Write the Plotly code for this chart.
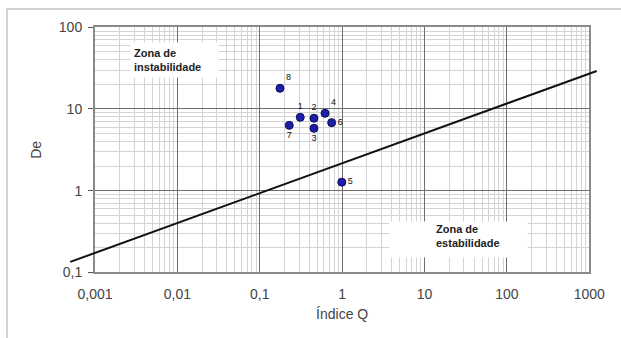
import plotly.graph_objects as go

# ---- data ----
point_labels = ["1", "2", "3", "4", "5", "6", "7", "8"]
q_values = [0.31, 0.455, 0.455, 0.62, 0.99, 0.746, 0.228, 0.176]
de_values = [7.9, 7.7, 5.8, 8.85, 1.27, 6.8, 6.3, 17.9]
label_positions = ["top center", "top center", "bottom center", "top right",
                   "middle right", "middle right", "bottom center", "top right"]

line_q = [0.0005, 1230]
line_de = [0.134, 29.2]

x_tickvals = [0.001, 0.01, 0.1, 1, 10, 100, 1000]
x_ticktext = ["0,001", "0,01", "0,1", "1", "10", "100", "1000"]
y_tickvals = [0.1, 1, 10, 100]
y_ticktext = ["0,1", "1", "10", "100"]

# ---- layout geometry ----
W, H = 621, 338
ML, MR, MT, MB = 40, 15, 20, 50
pw, ph = W - ML - MR, H - MT - MB
px_left, px_right, px_top, px_bottom = 95, 589.3, 27.3, 272.3
xdom = [(px_left - ML) / pw, (px_right - ML) / pw]
ydom = [(H - MB - px_bottom) / ph, (H - MB - px_top) / ph]
xdec = (px_right - px_left) / 6
ydec = (px_bottom - px_top) / 3
x2range = [-3 - (px_left - ML) / xdec, 3 + (W - MR - px_right) / xdec]
y2range = [-1 - (H - MB - px_bottom) / ydec, 2 + (px_top - MT) / ydec]

font_family = "Liberation Sans, Arial, sans-serif"

fig = go.Figure()

fig.add_trace(go.Scatter(
    x=q_values, y=de_values, mode="markers+text",
    text=point_labels, textposition=label_positions,
    textfont=dict(size=9, color="#111111", family=font_family),
    marker=dict(size=8, color="#1e1ea8", line=dict(color="#0a0a55", width=1)),
    showlegend=False, cliponaxis=False,
))

fig.add_trace(go.Scatter(
    x=line_q, y=line_de, mode="lines",
    line=dict(color="#111111", width=2),
    xaxis="x2", yaxis="y2", showlegend=False, hoverinfo="skip",
))

axis_common = dict(
    type="log", automargin=False,
    showline=True, mirror=True, linecolor="#8a8a8a", linewidth=2,
    showgrid=True, gridcolor="#6e6e6e", gridwidth=1,
    zeroline=False,
    tickfont=dict(size=14, color="#444444", family=font_family),
    minor=dict(dtick="D1", showgrid=True, gridcolor="#d4d4d4", gridwidth=1, ticks=""),
)

fig.update_layout(
    width=W, height=H,
    margin=dict(l=ML, r=MR, t=MT, b=MB, autoexpand=False),
    paper_bgcolor="white", plot_bgcolor="rgba(0,0,0,0)",
    font=dict(family=font_family, color="#444444"),
    xaxis=dict(
        axis_common, domain=xdom, range=[-3, 3],
        tickmode="array", tickvals=x_tickvals, ticktext=x_ticktext,
        ticks="", ticklabelstandoff=8,
        title=dict(text="Índice Q", font=dict(size=14, color="#444444"), standoff=8),
    ),
    yaxis=dict(
        axis_common, domain=ydom, range=[-1, 2],
        tickmode="array", tickvals=y_tickvals, ticktext=y_ticktext,
        ticks="outside", ticklen=5, tickcolor="#555555", ticklabelstandoff=3,
        title=dict(text="De", font=dict(size=14, color="#444444"), standoff=14),
    ),
    xaxis2=dict(type="log", domain=[0, 1], range=x2range,
                visible=False, showgrid=False, anchor="y2", automargin=False),
    yaxis2=dict(type="log", domain=[0, 1], range=y2range,
                visible=False, showgrid=False, anchor="x2", automargin=False),
)

# outer chart border
fig.add_shape(type="rect", xref="paper", yref="paper",
              x0=(7 - ML) / pw, x1=1.2, y0=-0.4, y1=(H - MB - 9) / ph,
              line=dict(color="#c4c4c4", width=1.5), fillcolor="rgba(0,0,0,0)")

# zone labels
fig.add_annotation(x=-2.04, y=1.60, xref="x", yref="y",
                   text="Zona de<br>instabilidade", showarrow=False,
                   align="left", bgcolor="white", width=81, height=28, borderpad=3,
                   font=dict(size=11, color="#222222", family=font_family, weight="bold"))
fig.add_annotation(x=1.411, y=-0.597, xref="x", yref="y",
                   text=" ", showarrow=False, bgcolor="white",
                   width=131, height=29, borderpad=3)
fig.add_annotation(x=1.527, y=-0.554, xref="x", yref="y",
                   text="Zona de<br>estabilidade", showarrow=False, align="left",
                   font=dict(size=11, color="#222222", family=font_family, weight="bold"))

fig.write_html("out.html", config={"displayModeBar": False},
               post_script="document.body.style.margin='0';")
